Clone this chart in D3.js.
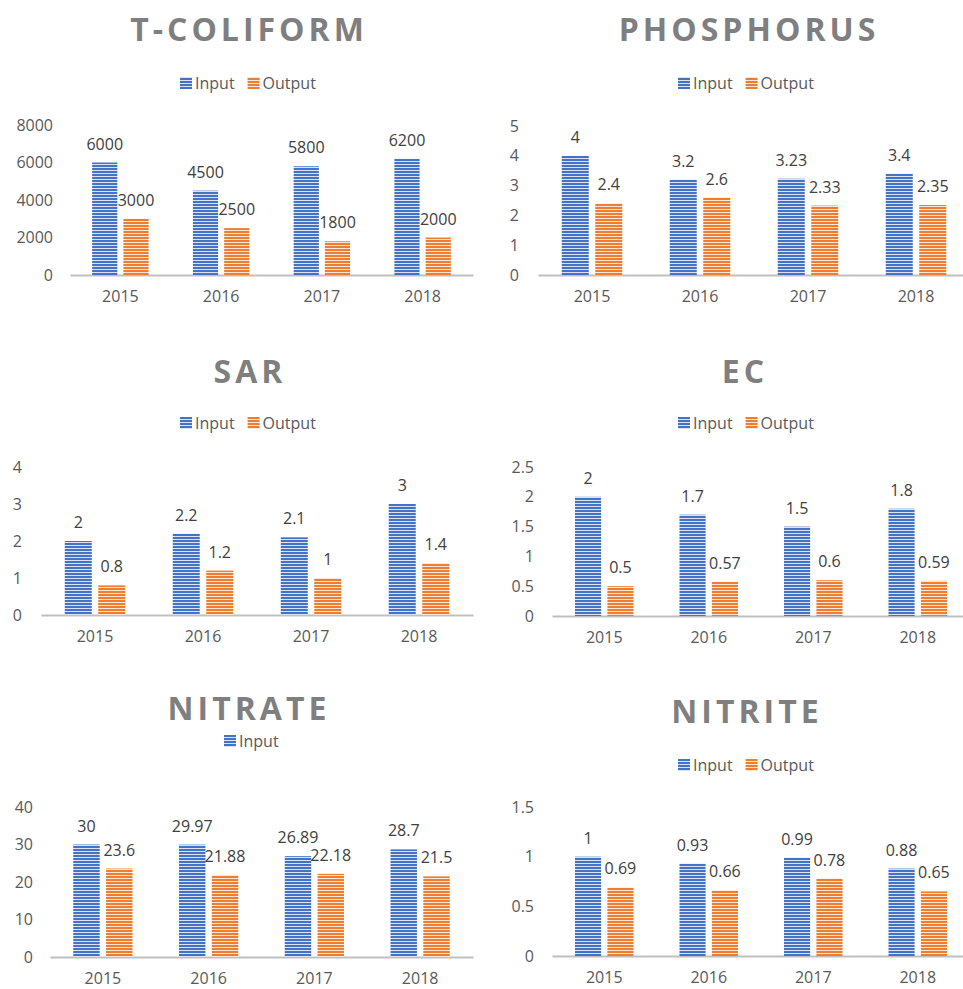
<!DOCTYPE html>
<html>
<head>
<meta charset="utf-8">
<script src="https://cdn.jsdelivr.net/npm/d3@7"></script>
<style>
  html, body { margin: 0; padding: 0; background: #ffffff; }
  svg { display: block; }
</style>
</head>
<body>
<svg id="chart" width="963" height="989"></svg>
<script>
// ---------------- DATA ----------------
const years = ["2015", "2016", "2017", "2018"];

const coliformInput  = [6000, 4500, 5800, 6200];
const coliformOutput = [3000, 2500, 1800, 2000];
const coliformTicks  = [0, 2000, 4000, 6000, 8000];

const phosphorusInput  = [4, 3.2, 3.23, 3.4];
const phosphorusOutput = [2.4, 2.6, 2.33, 2.35];
const phosphorusTicks  = [0, 1, 2, 3, 4, 5];

const sarInput  = [2, 2.2, 2.1, 3];
const sarOutput = [0.8, 1.2, 1, 1.4];
const sarTicks  = [0, 1, 2, 3, 4];

const ecInput  = [2, 1.7, 1.5, 1.8];
const ecOutput = [0.5, 0.57, 0.6, 0.59];
const ecTicks  = [0, 0.5, 1, 1.5, 2, 2.5];

const nitrateInput  = [30, 29.97, 26.89, 28.7];
const nitrateOutput = [23.6, 21.88, 22.18, 21.5];
const nitrateTicks  = [0, 10, 20, 30, 40];

const nitriteInput  = [1, 0.93, 0.99, 0.88];
const nitriteOutput = [0.69, 0.66, 0.78, 0.65];
const nitriteTicks  = [0, 0.5, 1, 1.5];

const seriesNames = ["Input", "Output"];

// ---------------- LAYOUT / STYLE ----------------
const colors = ["#4472C4", "#ED7D31"];
const FONT = "'Open Sans', Lato, sans-serif";

const panels = [
  { title: "T-COLIFORM", inp: coliformInput, out: coliformOutput, ticks: coliformTicks,
    x0: 70, x1: 473, y0: 275, y1: 125, labelX: 53, titleX: 247, titleY: 28,
    legendX: 180, legendY: 83, legendSeries: [0, 1] },
  { title: "PHOSPHORUS", inp: phosphorusInput, out: phosphorusOutput, ticks: phosphorusTicks,
    x0: 538, x1: 970, y0: 275, y1: 126, labelX: 519, titleX: 747, titleY: 28,
    legendX: 678, legendY: 83, legendSeries: [0, 1] },
  { title: "SAR", inp: sarInput, out: sarOutput, ticks: sarTicks,
    x0: 41, x1: 473, y0: 615, y1: 467, labelX: 22, titleX: 248, titleY: 370,
    legendX: 180, legendY: 423, legendSeries: [0, 1] },
  { title: "EC", inp: ecInput, out: ecOutput, ticks: ecTicks,
    x0: 552, x1: 970, y0: 616, y1: 467, labelX: 534, titleX: 743, titleY: 370,
    legendX: 678, legendY: 423, legendSeries: [0, 1] },
  { title: "NITRATE", inp: nitrateInput, out: nitrateOutput, ticks: nitrateTicks,
    x0: 50, x1: 473, y0: 957, y1: 807, labelX: 33, titleX: 247, titleY: 707,
    legendX: 224, legendY: 741, legendSeries: [0] },
  { title: "NITRITE", inp: nitriteInput, out: nitriteOutput, ticks: nitriteTicks,
    x0: 552, x1: 970, y0: 956, y1: 807, labelX: 534, titleX: 745, titleY: 710,
    legendX: 678, legendY: 765, legendSeries: [0, 1] }
];

const svg = d3.select("#chart");
const defs = svg.append("defs");
colors.forEach((c, i) => {
  const p = defs.append("pattern")
    .attr("id", "stripe" + i)
    .attr("patternUnits", "userSpaceOnUse")
    .attr("width", 6).attr("height", 3);
  p.append("rect").attr("width", 6).attr("height", 3).attr("fill", c);
  p.append("rect").attr("y", 2).attr("width", 6).attr("height", 1).attr("fill", "#ffffff").attr("opacity", 0.8);
});

panels.forEach(cfg => {
  const g = svg.append("g");
  const x = d3.scaleBand().domain(years).range([cfg.x0, cfg.x1]).padding(0);
  const yMax = cfg.ticks[cfg.ticks.length - 1];
  const y = d3.scaleLinear().domain([0, yMax]).range([cfg.y0, cfg.y1]);
  const bw = x.bandwidth() * 0.25;
  const gap = x.bandwidth() * 0.06;
  const groupW = bw * 2 + gap;

  // title
  g.append("text")
    .attr("x", cfg.titleX + 2).attr("y", cfg.titleY)
    .attr("text-anchor", "middle").attr("dominant-baseline", "central")
    .style("font-family", FONT).style("font-weight", "bold")
    .style("font-size", "32px").style("letter-spacing", "4px")
    .attr("fill", "#7F7F7F")
    .text(cfg.title);

  // legend
  let lx = cfg.legendX;
  cfg.legendSeries.forEach(si => {
    g.append("rect").attr("x", lx).attr("y", cfg.legendY - 6)
      .attr("width", 12).attr("height", 12).attr("fill", "url(#stripe" + si + ")");
    const t = g.append("text").attr("x", lx + 15).attr("y", cfg.legendY)
      .attr("dominant-baseline", "central")
      .style("font-family", FONT).style("font-size", "16px").attr("fill", "#595959")
      .text(seriesNames[si]);
    lx += 15 + t.node().getComputedTextLength() + 13;
  });

  // y axis
  const yAxis = d3.axisLeft(y).tickValues(cfg.ticks).tickSize(0).tickPadding(0)
    .tickFormat(d => String(d));
  const ya = g.append("g").attr("transform", `translate(${cfg.labelX},0)`).call(yAxis);
  ya.select(".domain").remove();
  ya.selectAll("text").style("font-family", FONT).style("font-size", "16px").attr("fill", "#595959");

  // x axis
  const xAxis = d3.axisBottom(x).tickSize(0).tickPadding(16);
  const xa = g.append("g").attr("transform", `translate(0,${cfg.y0})`).call(xAxis);
  xa.select(".domain").attr("stroke", "#BFBFBF").attr("stroke-width", 2);
  xa.selectAll("text").style("font-family", FONT).style("font-size", "16px").attr("fill", "#595959");

  // bars
  [cfg.inp, cfg.out].forEach((vals, si) => {
    const data = years.map((yr, i) => ({ yr, v: vals[i] }));
    const bx = d => x(d.yr) + (x.bandwidth() - groupW) / 2 + si * (bw + gap);
    g.append("g").selectAll("rect").data(data).join("rect")
      .attr("x", bx)
      .attr("y", d => y(d.v))
      .attr("width", bw)
      .attr("height", d => cfg.y0 - y(d.v))
      .attr("fill", "url(#stripe" + si + ")");
    g.append("g").selectAll("text").data(data).join("text")
      .attr("x", d => bx(d) + bw / 2)
      .attr("y", d => y(d.v) - 19)
      .attr("text-anchor", "middle").attr("dominant-baseline", "central")
      .style("font-family", FONT).style("font-size", "16px").attr("fill", "#404040")
      .text(d => String(d.v));
  });
});
</script>
</body>
</html>
